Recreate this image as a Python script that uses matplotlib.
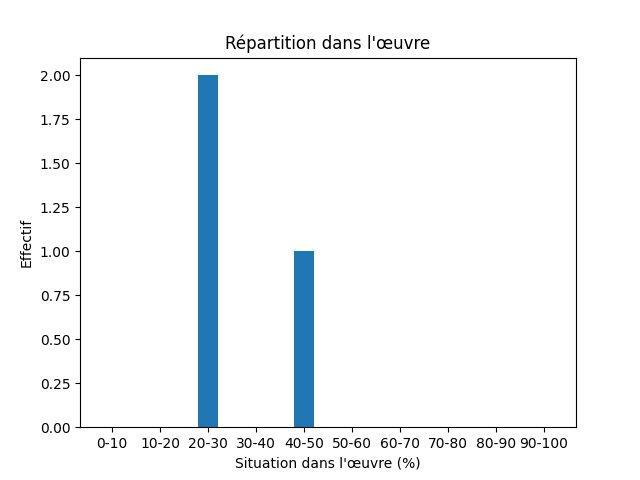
import matplotlib
matplotlib.use("Agg")
from matplotlib import pyplot as plt

# tranches de la situation dans l'oeuvre
tranches = ['0-10', '10-20', '20-30', '30-40', '40-50',
            '50-60', '60-70', '70-80', '80-90', '90-100']
effectifs = [0, 0, 2, 0, 1, 0, 0, 0, 0, 0]

fig, ax = plt.subplots(figsize=(6.4, 4.8), dpi=100)
ax.bar(tranches, effectifs, width=0.4)
ax.set_title("Répartition dans l'œuvre")
ax.set_xlabel("Situation dans l'œuvre (%)")
ax.set_ylabel("Effectif")

plt.savefig('out.png')
